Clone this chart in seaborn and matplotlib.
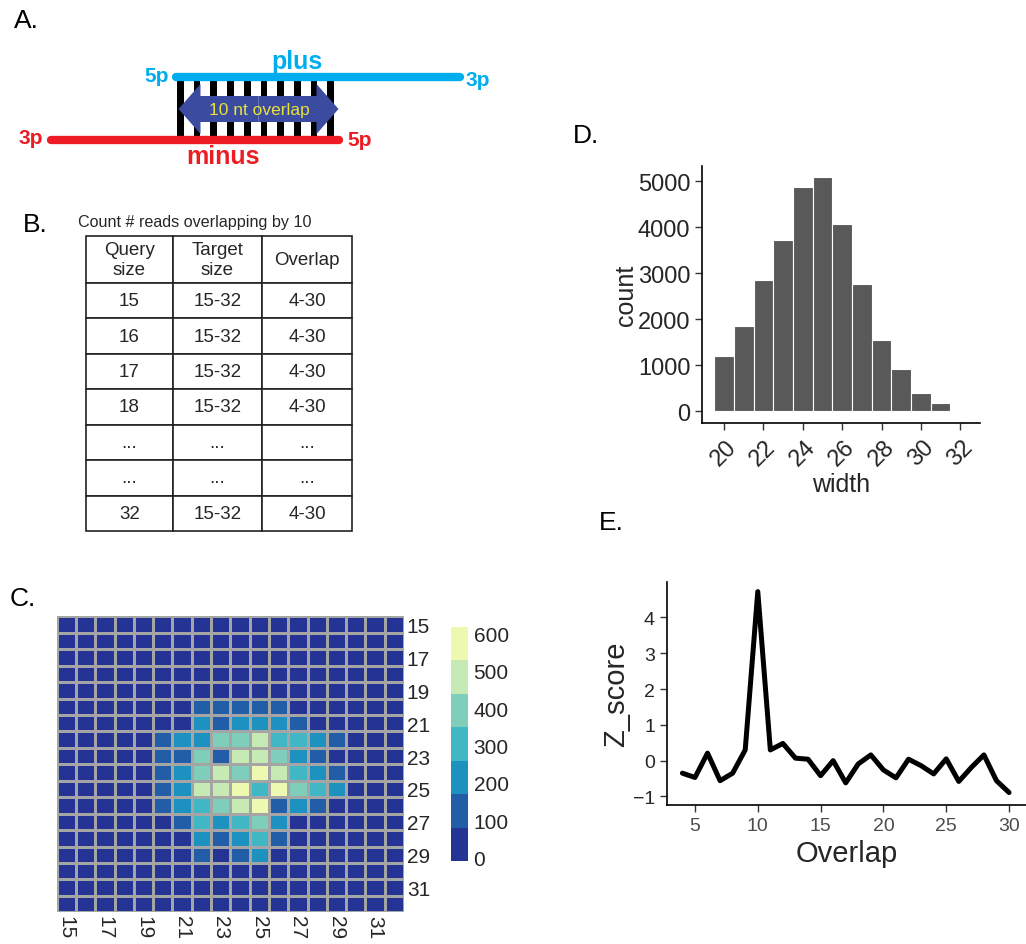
import numpy as np
import pandas as pd
import matplotlib
matplotlib.use('Agg')
import matplotlib.pyplot as plt
from matplotlib.colors import ListedColormap
from matplotlib.patches import Rectangle
import seaborn as sns

# Panel B table
table_header = ['Query\nsize', 'Target\nsize', 'Overlap']
query_sizes = ['15', '16', '17', '18', '...', '...', '32']
target_sizes = ['15-32', '15-32', '15-32', '15-32', '...', '...', '15-32']
overlap_ranges = ['4-30', '4-30', '4-30', '4-30', '...', '...', '4-30']

# Panel C: overlapping read pairs, rows = query size, cols = target size
sizes = list(range(15, 33))
row15 = [0] * 18
row16 = [0] * 18
row17 = [0] * 18
row18 = [0, 0, 0, 0, 0, 0, 0, 4, 6, 5, 3, 2, 0, 0, 0, 0, 0, 0]
row19 = [0, 0, 0, 0, 0, 0, 5, 12, 20, 18, 15, 10, 4, 0, 0, 0, 0, 0]
row20 = [0, 0, 0, 0, 0, 2, 40, 95, 130, 120, 150, 110, 60, 15, 3, 0, 0, 0]
row21 = [0, 0, 0, 0, 0, 20, 65, 200, 160, 230, 220, 190, 140, 55, 10, 0, 0, 0]
row22 = [0, 0, 0, 0, 5, 100, 180, 240, 370, 400, 460, 310, 290, 200, 110, 20, 0, 0]
row23 = [0, 0, 0, 0, 8, 120, 150, 380, 165, 500, 470, 360, 230, 130, 60, 15, 0, 0]
row24 = [0, 0, 0, 0, 10, 110, 210, 410, 450, 420, 590, 490, 300, 220, 120, 25, 0, 0]
row25 = [0, 0, 0, 0, 12, 125, 235, 480, 510, 600, 330, 560, 395, 280, 190, 30, 0, 0]
row26 = [0, 0, 0, 0, 6, 105, 200, 320, 370, 470, 545, 150, 215, 125, 50, 10, 0, 0]
row27 = [0, 0, 0, 0, 3, 55, 140, 300, 250, 320, 380, 200, 70, 30, 8, 0, 0, 0]
row28 = [0, 0, 0, 0, 0, 20, 60, 240, 150, 225, 310, 130, 45, 10, 0, 0, 0, 0]
row29 = [0, 0, 0, 0, 0, 5, 25, 110, 70, 120, 195, 60, 20, 5, 0, 0, 0, 0]
row30 = [0, 0, 0, 0, 0, 0, 8, 30, 20, 35, 40, 15, 5, 0, 0, 0, 0, 0]
row31 = [0] * 18
row32 = [0] * 18
heat_colors = ['#253494', '#225ea8', '#1d91c0', '#41b6c4', '#7fcdbb', '#c7e9b4', '#edf8b1']
cbar_ticks = [0, 100, 200, 300, 400, 500, 600]

# Panel D: read width histogram
read_widths = [20, 21, 22, 23, 24, 25, 26, 27, 28, 29, 30, 31, 32]
width_counts = [1200, 1860, 2850, 3720, 4870, 5090, 4080, 2770, 1550, 930, 390, 175, 30]

# Panel E: z-score by overlap
overlap = list(range(4, 31))
z_score = [-0.35, -0.47, 0.21, -0.56, -0.35, 0.30, 4.72, 0.30, 0.48, 0.07, 0.04, -0.42, 0.0,
           -0.62, -0.09, 0.16, -0.26, -0.48, 0.04, -0.14, -0.37, 0.05, -0.58, -0.19, 0.16,
           -0.56, -0.89]

sns.set_theme(style='ticks')
plt.rcParams['font.family'] = ['Liberation Sans', 'DejaVu Sans']

W, H = 1026, 945
fig = plt.figure(figsize=(W / 100, H / 100), dpi=100)
fig.patch.set_facecolor('white')

# background axes in pixel units for the diagram and panel letters
ax0 = fig.add_axes([0, 0, 1, 1])
ax0.set_xlim(0, W)
ax0.set_ylim(H, 0)
ax0.axis('off')

for lab, x, y in [('A.', 26, 21), ('B.', 35, 225), ('C.', 23, 599), ('D.', 586, 136), ('E.', 611, 523)]:
    ax0.text(x, y, lab, fontsize=19, ha='center', va='center', color='black')

# Panel A diagram
blue = '#00aeef'
red = '#ed1c24'
for i in range(10):
    ax0.add_patch(Rectangle((177 + i * 16.7, 80), 6.7, 58, color='black', lw=0))
ax0.plot([176, 460], [77.5, 77.5], color=blue, lw=6, solid_capstyle='round')
ax0.plot([51, 339], [141, 141], color=red, lw=6, solid_capstyle='round')
ax0.arrow(258.5, 110, -80, 0, width=26, head_width=50, head_length=22,
          length_includes_head=True, color='#3a4ba0', lw=0)
ax0.arrow(258.5, 110, 80, 0, width=26, head_width=50, head_length=22,
          length_includes_head=True, color='#3a4ba0', lw=0)
ax0.text(259, 110, '10 nt overlap', color='#e8e23a', fontsize=12.5, ha='center', va='center')
ax0.text(297, 62, 'plus', color=blue, fontsize=18, fontweight='bold', ha='center', va='center')
ax0.text(157, 76, '5p', color=blue, fontsize=15, fontweight='bold', ha='center', va='center')
ax0.text(478, 80, '3p', color=blue, fontsize=15, fontweight='bold', ha='center', va='center')
ax0.text(223, 157, 'minus', color=red, fontsize=18, fontweight='bold', ha='center', va='center')
ax0.text(31, 139, '3p', color=red, fontsize=15, fontweight='bold', ha='center', va='center')
ax0.text(360, 140, '5p', color=red, fontsize=15, fontweight='bold', ha='center', va='center')

# Panel B table
ax0.text(78, 222, 'Count # reads overlapping by 10', fontsize=11.6, ha='left', va='center')
axb = fig.add_axes([86 / W, 1 - 532 / H, 266 / W, 295 / H])
axb.axis('off')
cell_text = [list(r) for r in zip(query_sizes, target_sizes, overlap_ranges)]
tbl = axb.table(cellText=cell_text, colLabels=table_header, cellLoc='center', bbox=[0, 0, 1, 1])
tbl.auto_set_font_size(False)
tbl.set_fontsize(13.5)
col_w = [87, 89, 90]
for (r, c), cell in tbl.get_celld().items():
    cell.set_linewidth(1.2)
    cell.set_edgecolor('#222222')
    cell.set_width(col_w[c])
    cell.set_height(47 if r == 0 else 35.5)

# Panel C heatmap
heat = pd.DataFrame([row15, row16, row17, row18, row19, row20, row21, row22, row23, row24,
                     row25, row26, row27, row28, row29, row30, row31, row32],
                    index=sizes, columns=sizes)
axc = fig.add_axes([56.7 / W, 1 - 913.3 / H, 347.3 / W, 296 / H])
cax = fig.add_axes([451 / W, 1 - 862 / H, 17 / W, 234 / H])
sns.heatmap(heat, ax=axc, cbar_ax=cax, cmap=ListedColormap(heat_colors), vmin=-10, vmax=618,
            linewidths=0.8, linecolor='#a5a5a5', square=False)
axc.yaxis.tick_right()
axc.set_yticks(np.arange(0, 18, 2) + 0.5)
axc.set_yticklabels(sizes[::2], rotation=0, fontsize=15)
axc.set_xticks(np.arange(0, 18, 2) + 0.5)
axc.set_xticklabels(sizes[::2], rotation=270, fontsize=15, va='top')
axc.tick_params(length=0, pad=2)
axc.set_xlabel('')
axc.set_ylabel('')
cax.set_yticks(cbar_ticks)
cax.set_yticklabels(cbar_ticks, fontsize=15)
cax.tick_params(length=0, pad=4)
for s in cax.spines.values():
    s.set_visible(False)

# Panel D histogram
axd = fig.add_axes([702.3 / W, 1 - 424.3 / H, 277.7 / W, 257.6 / H])
sns.histplot(x=read_widths, weights=width_counts, discrete=True, ax=axd, color='#595959',
             alpha=1, edgecolor='white', linewidth=0.8)
axd.set_xlim(18.9, 33.0)
axd.set_ylim(-261, 5339)
axd.set_xticks(range(20, 33, 2))
axd.set_yticks(range(0, 5001, 1000))
axd.tick_params(labelsize=17, length=5, width=1, color='#333333')
for lbl in axd.get_xticklabels():
    lbl.set_rotation(45)
    lbl.set_ha('center')
axd.set_xlabel('width', fontsize=18, labelpad=2)
axd.set_ylabel('count', fontsize=18, labelpad=0)
sns.despine(ax=axd)
for s in ['left', 'bottom']:
    axd.spines[s].set_color('black')
    axd.spines[s].set_linewidth(1.2)

# Panel E line
axe = fig.add_axes([666.7 / W, 1 - 805.7 / H, 359.3 / W, 222.4 / H])
sns.lineplot(x=overlap, y=z_score, ax=axe, color='black', linewidth=3.6)
axe.set_xlim(2.75, 31.35)
axe.set_ylim(-1.23, 4.98)
axe.set_xticks(range(5, 31, 5))
axe.set_yticks(range(-1, 5))
axe.tick_params(labelsize=14, length=5, width=1, color='#333333')
axe.tick_params(axis='x', labelcolor='#4d4d4d')
axe.set_xlabel('Overlap', fontsize=21)
axe.set_ylabel('Z_score', fontsize=21, labelpad=2)
sns.despine(ax=axe)
for s in ['left', 'bottom']:
    axe.spines[s].set_color('black')
    axe.spines[s].set_linewidth(1.2)

fig.savefig('out.png', dpi=100, facecolor='white')
